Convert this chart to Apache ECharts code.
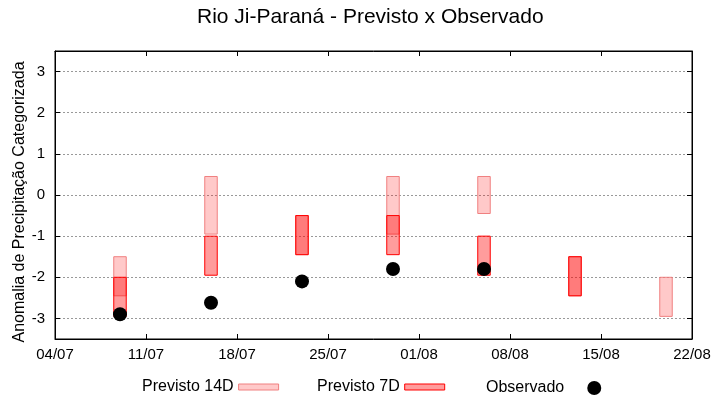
<!DOCTYPE html>
<html>
<head>
<meta charset="utf-8">
<script src="https://cdn.jsdelivr.net/npm/echarts@6/dist/echarts.min.js"></script>
<style>html,body{margin:0;padding:0;background:#fff;}#c{width:720px;height:400px;}</style>
</head>
<body>
<div id="c"></div>
<script>
const startDate = '04/07';
const endDate = '22/08';
const dates = ['09/07','16/07','23/07','30/07','06/08','13/08','20/08'];
const prev14Low  = [-2.45, -0.95, -1.45, -0.95, -0.45, -2.45, -2.95];
const prev14High = [-1.5,   0.45, -0.5,   0.45,  0.45, -1.5,  -2.0];
const prev7Low   = [-2.95, -1.95, -1.45, -1.45, -1.95, -2.45, null];
const prev7High  = [-2.0,  -1.0,  -0.5,  -0.5,  -1.0,  -1.5,  null];
const observado  = [-2.9,  -2.62, -2.1,  -1.8,  -1.8,  null,  null];
const yTicks = [-3, -2, -1, 0, 1, 2, 3];

const YEAR = 2024, DAY = 86400000;
function toTs(s){ const [d,m] = s.split('/').map(Number); return Date.UTC(YEAR, m-1, d); }
const t0 = toTs(startDate);
function off(s){ return Math.round((toTs(s) - t0) / DAY); }
function fmt(v){ const d = new Date(t0 + v*DAY); return String(d.getUTCDate()).padStart(2,'0') + '/' + String(d.getUTCMonth()+1).padStart(2,'0'); }

function rangeData(lo, hi){
  const out = [];
  dates.forEach((d,i) => { if (lo[i] != null && hi[i] != null) out.push([off(d), lo[i], hi[i]]); });
  return out;
}
const obsData = [];
dates.forEach((d,i) => { if (observado[i] != null) obsData.push([off(d), observado[i]]); });

function makeRender(fill, stroke){
  return function(params, api){
    const x = api.value(0), lo = api.value(1), hi = api.value(2);
    const p1 = api.coord([x - 0.48, hi]);
    const p2 = api.coord([x + 0.48, lo]);
    return {type:'rect', shape:{x:p1[0], y:p1[1], width:p2[0]-p1[0], height:p2[1]-p1[1]},
      style:{fill:fill, stroke:stroke, lineWidth:1}};
  };
}

const c14 = 'rgba(255,0,0,0.21)', b14 = '#f08080';
const c7 = 'rgba(255,0,0,0.39)', b7 = '#ff0000';
const FONT = '"Liberation Sans", Arial, sans-serif';

const chart = echarts.init(document.getElementById('c'), null, {renderer:'canvas'});
const xMax = off(endDate);
function axisLine(){ return {show:true, onZero:false, lineStyle:{color:'#000', width:1}}; }
function xTick(){ return {show:true, inside:true, length:5, lineStyle:{color:'#000'}}; }
function yTick(){ return {show:true, inside:true, length:5, lineStyle:{color:'#000'}, customValues:yTicks}; }
const legText = {fontFamily:FONT, fontSize:16, color:'#000'};
chart.setOption({
  animation:false,
  backgroundColor:'#fff',
  title:{text:'Rio Ji-Paraná - Previsto x Observado', left:197, top:7, padding:0,
    textStyle:{fontFamily:FONT, fontSize:21, fontWeight:'normal', color:'#000'}},
  grid:{left:55, right:28, top:51, bottom:61, show:true, borderColor:'#000', borderWidth:1, backgroundColor:'transparent'},
  legend:[
    {data:[{name:'Previsto 14D', icon:'rect', itemStyle:{color:c14, borderColor:b14, borderWidth:1}}],
     left:142, top:379, padding:0, align:'right', itemWidth:40, itemHeight:6, textStyle:legText},
    {data:[{name:'Previsto 7D', icon:'rect', itemStyle:{color:c7, borderColor:b7, borderWidth:1}}],
     left:317, top:379, padding:0, align:'right', itemWidth:40, itemHeight:6, textStyle:legText},
    {data:[{name:'Observado', icon:'circle', itemStyle:{color:'#000'}}],
     left:486, top:380, padding:0, align:'right', itemWidth:14, itemHeight:14,
     textStyle:Object.assign({padding:[0,18,0,0]}, legText)}
  ],
  xAxis:[
    {type:'value', min:0, max:xMax, interval:7, position:'bottom', axisLine:axisLine(), axisTick:xTick(),
      axisLabel:{formatter:fmt, fontFamily:FONT, fontSize:15, color:'#000', margin:8},
      splitLine:{show:false}},
    {type:'value', min:0, max:xMax, interval:7, position:'top', axisLine:axisLine(), axisTick:xTick(),
      axisLabel:{show:false}, splitLine:{show:false}}
  ],
  yAxis:[
    {type:'value', min:-3.5, max:3.5, interval:0.5, position:'left', axisLine:axisLine(), axisTick:yTick(),
      name:'Anomalia de Precipitação Categorizada', nameLocation:'middle', nameGap:27, nameRotate:90,
      nameMoveOverlap:false,
      nameTextStyle:{fontFamily:FONT, fontSize:16, color:'#000', padding:[0,14,0,0]},
      axisLabel:{fontFamily:FONT, fontSize:15, color:'#000', margin:10, customValues:yTicks},
      splitLine:{show:true, lineStyle:{color:'#999', width:1, type:[2,2]}}},
    {type:'value', min:-3.5, max:3.5, interval:0.5, position:'right', axisLine:axisLine(), axisTick:yTick(),
      axisLabel:{show:false}, splitLine:{show:false}}
  ],
  series:[
    {name:'Previsto 14D', type:'custom', renderItem:makeRender(c14, b14), data:rangeData(prev14Low, prev14High),
     encode:{x:0, y:[1,2]}, itemStyle:{color:c14, borderColor:b14}, z:2},
    {name:'Previsto 7D', type:'custom', renderItem:makeRender(c7, b7), data:rangeData(prev7Low, prev7High),
     encode:{x:0, y:[1,2]}, itemStyle:{color:c7, borderColor:b7}, z:3},
    {name:'Observado', type:'scatter', data:obsData, symbol:'circle', symbolSize:14,
     itemStyle:{color:'#000', opacity:1}, z:4}
  ]
});
</script>
</body>
</html>
